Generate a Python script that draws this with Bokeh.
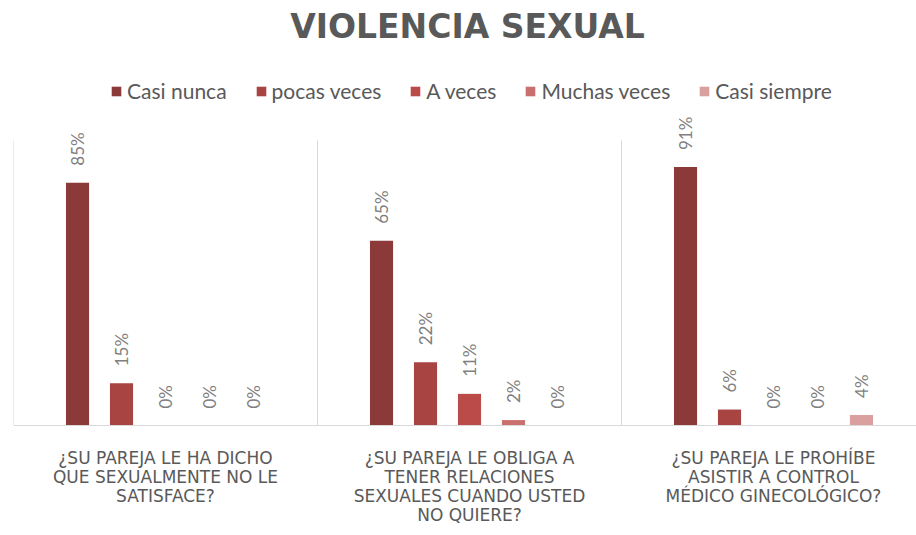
import math
from bokeh.plotting import figure
from bokeh.models import (ColumnDataSource, Range1d, Legend, LegendItem, LabelSet, Label, Span)
from bokeh.core.properties import value
from bokeh.embed import file_html
from bokeh.resources import INLINE

# ---- data (in %) ----
title_text = "VIOLENCIA SEXUAL"
questions = [
    "¿SU PAREJA LE HA DICHO\nQUE SEXUALMENTE NO LE\nSATISFACE?",
    "¿SU PAREJA LE OBLIGA A\nTENER RELACIONES\nSEXUALES CUANDO USTED\nNO QUIERE?",
    "¿SU PAREJA LE PROHÍBE\nASISTIR A CONTROL\nMÉDICO GINECOLÓGICO?",
]
series_names = ["Casi nunca", "pocas veces", "A veces", "Muchas veces", "Casi siempre"]
casi_nunca = [85.2, 64.8, 90.7]
pocas_veces = [14.8, 22.2, 5.6]
a_veces = [0.0, 11.1, 0.0]
muchas_veces = [0.0, 1.9, 0.0]
casi_siempre = [0.0, 0.0, 3.7]
series_values = [casi_nunca, pocas_veces, a_veces, muchas_veces, casi_siempre]
colors = ["#8B3A39", "#A84543", "#BA4B48", "#C9706E", "#D9A09F"]

# ---- layout constants (screen pixels) ----
W, H = 916, 535
FRAME_LEFT = 13
BASE_Y = 425             # screen row of the 0 % baseline
TITLE_Y = 26             # screen row of the title's centre
TITLE_X = 467            # screen column of the title's centre
PX_PER_PCT = 2.85
GROUP_PX = 304
step = 0.1447
bar_w = 0.076

keys = ["s%d" % i for i in range(len(series_names))]
data = {}
for j, (k, vals) in enumerate(zip(keys, series_values)):
    off = (j - 2) * step
    data["x_" + k] = [i + 0.5 + off for i in range(len(questions))]
    data[k] = vals
    data[k + "_lbl"] = ["%d%%" % round(v) for v in vals]
src = ColumnDataSource(data)

x_end = (W - FRAME_LEFT) / GROUP_PX
y_top = BASE_Y / PX_PER_PCT
y_bot = -(H - BASE_Y) / PX_PER_PCT
p = figure(width=W, height=H, output_backend="svg", toolbar_location=None,
           x_range=Range1d(0, x_end), y_range=Range1d(y_bot, y_top),
           min_border_left=FRAME_LEFT, min_border_right=0, min_border_top=0,
           min_border_bottom=0)
p.outline_line_color = None

# title
p.add_layout(Label(x=(TITLE_X - FRAME_LEFT) / GROUP_PX, y=(BASE_Y - TITLE_Y) / PX_PER_PCT,
                   text=title_text, text_align="center", text_baseline="middle",
                   text_font="DejaVu Sans", text_font_size="33px",
                   text_font_style="bold", text_color="#595959"))

# group separators (category boundaries), from 0 to 100 %
bounds = list(range(len(questions) + 1))
p.segment(x0=bounds, y0=[0] * len(bounds), x1=bounds, y1=[100] * len(bounds),
          line_color="#D9D9D9", line_width=1)
# category axis line
p.add_layout(Span(location=0, dimension="width", line_color="#D9D9D9", line_width=1))

items = []
for j, (k, name, c) in enumerate(zip(keys, series_names, colors)):
    r = p.vbar(x="x_" + k, top=k, width=bar_w, source=src,
               fill_color=c, line_color=None)
    items.append(LegendItem(label=name, renderers=[r]))
    p.add_layout(LabelSet(x="x_" + k, y=k, text=k + "_lbl", source=src,
                          angle=math.pi / 2, text_align="left", text_baseline="middle",
                          y_offset=17, text_font=value("Lato"), text_font_size="17px",
                          text_color="#7F7F7F"))

# category labels, one LabelSet per text line
split = [q.split("\n") for q in questions]
max_lines = max(len(s) for s in split)
for ln in range(max_lines):
    xs, ys, ts = [], [], []
    for i, s in enumerate(split):
        if ln < len(s):
            xs.append(i + 0.5)
            ys.append(0)
            ts.append(s[ln])
    csrc = ColumnDataSource(dict(x=xs, y=ys, t=ts))
    p.add_layout(LabelSet(x="x", y="y", text="t", source=csrc,
                          text_align="center", text_baseline="middle",
                          y_offset=-(32 + 19 * ln), text_font=value("DejaVu Sans"),
                          text_font_size="17px", text_color="#595959"))

p.xaxis.visible = False
p.yaxis.visible = False
p.xgrid.visible = False
p.ygrid.visible = False

legend = Legend(items=items, orientation="horizontal", location=(97, 432),
                glyph_width=12, glyph_height=12, label_standoff=5, spacing=28,
                label_text_font="Lato", label_text_font_size="21px",
                label_text_color="#595959", border_line_color=None,
                background_fill_alpha=0, padding=0, margin=0)
p.add_layout(legend)

open("out.html", "w").write(file_html(p, INLINE))
